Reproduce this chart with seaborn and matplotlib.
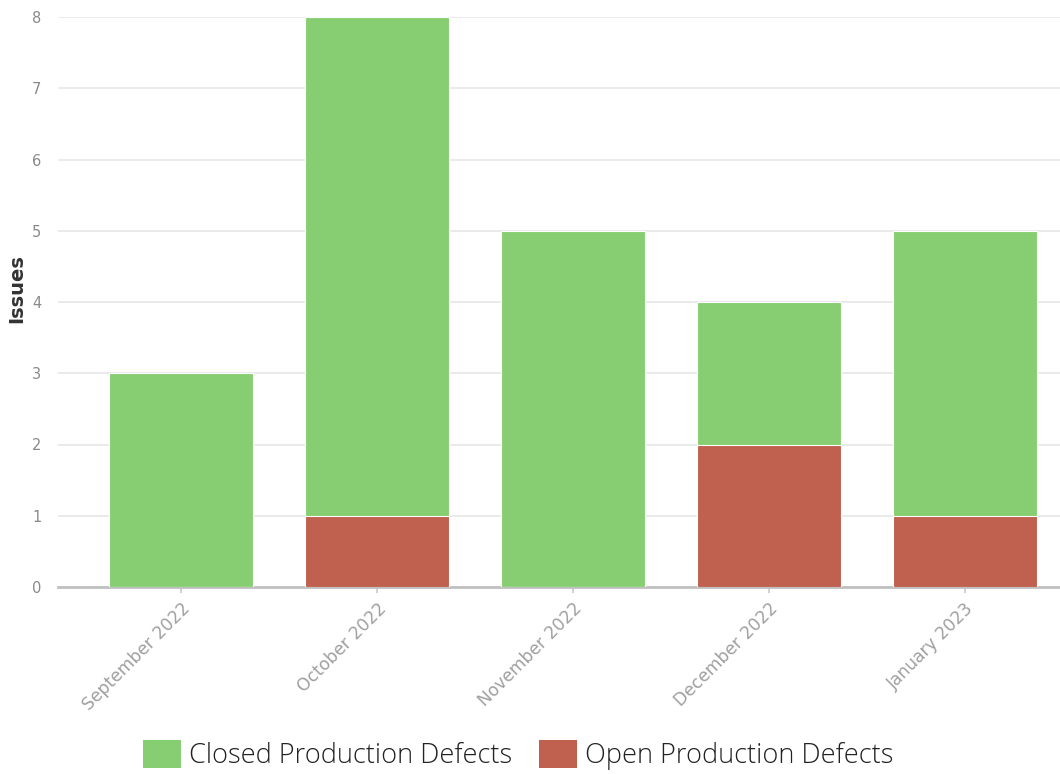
import matplotlib
matplotlib.use("Agg")
import matplotlib.pyplot as plt
import seaborn as sns
import pandas as pd
from matplotlib.patches import Patch

months = ["September 2022", "October 2022", "November 2022", "December 2022", "January 2023"]
closed_defects = [3, 7, 5, 2, 4]
open_defects = [0, 1, 0, 2, 1]

green = "#87CE72"
red = "#C0604E"

sns.set_theme(style="white")
plt.rcParams['font.family'] = ['DejaVu Sans']

df = pd.DataFrame({"month": months, "closed": closed_defects, "open": open_defects})
df["total"] = df["closed"] + df["open"]

fig = plt.figure(figsize=(10.6, 7.74), dpi=100)
ax = fig.add_axes([58/1060, 1 - 587/774, 1 - 58/1060, (587 - 17)/774])

sns.barplot(data=df, x="month", y="total", color=green, width=0.735, ax=ax,
            saturation=1, edgecolor="white", linewidth=0.8, zorder=3)
sns.barplot(data=df, x="month", y="open", color=red, width=0.735, ax=ax,
            saturation=1, edgecolor="white", linewidth=0.8, zorder=3)

ax.set_ylim(0, 8)
ax.set_xlim(-0.628, 4.485)
ax.set_yticks(range(0, 9))
ax.yaxis.grid(True, color="#e6e6e6", linewidth=1.2, zorder=0)
ax.set_axisbelow(True)
for s in ["top", "right", "left"]:
    ax.spines[s].set_visible(False)
ax.spines["bottom"].set_color("#c0c0c0")
ax.spines["bottom"].set_linewidth(2)

ax.tick_params(axis="y", length=0, pad=12, labelsize=10.5, labelcolor="#8a8a8a")
ax.tick_params(axis="x", length=4, color="#cccccc", bottom=True, pad=5,
               labelsize=12.3, labelcolor="#a0a0a0")
plt.setp(ax.get_xticklabels(), rotation=45, ha="right", rotation_mode="anchor")
ax.set_xlabel("")
ax.set_ylabel("Issues", fontsize=14, fontweight="bold", color="#333333",
              family="DejaVu Sans", va="center")
ax.yaxis.set_label_coords(-0.041, 0.523)

handles = [Patch(facecolor=green, edgecolor="none"), Patch(facecolor=red, edgecolor="none")]
fig.legend(handles, ["Closed Production Defects", "Open Production Defects"],
           loc="center", bbox_to_anchor=(0.489, 1 - 755/774), ncol=2, frameon=False,
           labelcolor="#222222",
           prop={"family": "Open Sans", "size": 19.5, "weight": "light"}, handlelength=1.4,
           handleheight=1.25, handletextpad=0.3, columnspacing=1.0)

fig.savefig("out.png", dpi=100)
